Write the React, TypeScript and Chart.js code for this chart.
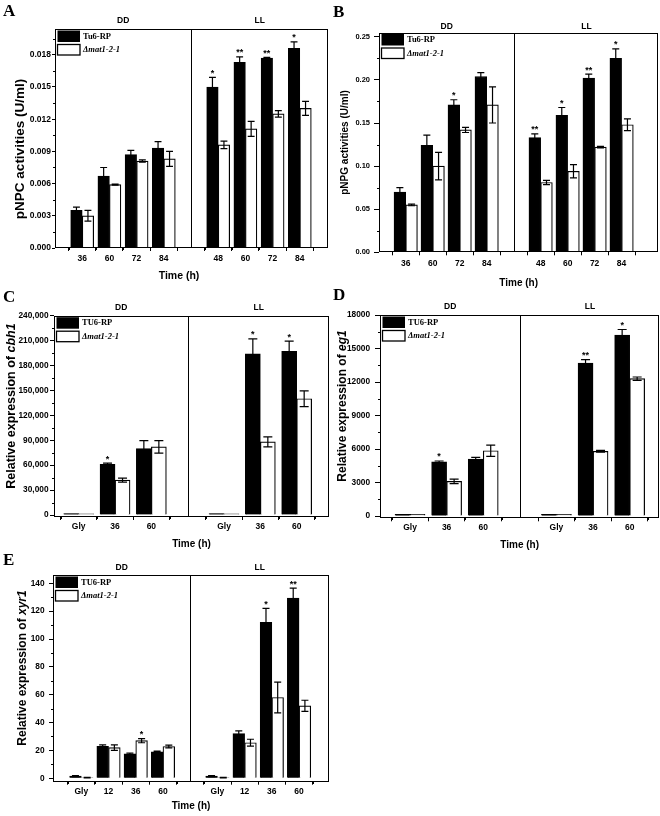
import React, { useEffect, useRef } from 'react';
import { Chart, registerables } from 'chart.js';

Chart.register(...registerables);

const SANS = '"Liberation Sans", Arial, Helvetica, sans-serif';
const SERIF = '"Liberation Serif", "Times New Roman", serif';

// ---------------- Panel A (pNPC) ----------------
const A_DD_LABELS = ['36', '60', '72', '84'];
const A_LL_LABELS = ['48', '60', '72', '84'];
const A_DD_WT = [0.0035, 0.0067, 0.0087, 0.0093];
const A_DD_WT_ERR = [0.0003, 0.0008, 0.0004, 0.0006];
const A_DD_MUT = [0.003, 0.0059, 0.0081, 0.0083];
const A_DD_MUT_ERR = [0.0005, 0.00005, 0.0001, 0.0007];
const A_LL_WT = [0.015, 0.0173, 0.0177, 0.0186];
const A_LL_WT_ERR = [0.0009, 0.0005, 0.00005, 0.0006];
const A_LL_MUT = [0.0096, 0.0111, 0.0125, 0.013];
const A_LL_MUT_ERR = [0.00035, 0.0007, 0.0003, 0.00065];
const A_WT_STARS = ['', '', '', '', '*', '**', '**', '*'];
const A_MUT_STARS = ['', '', '', '', '', '', '', ''];
const A_Y_TICKS = [0, 0.003, 0.006, 0.009, 0.012, 0.015, 0.018];
const A_Y_LABELS = ['0.000', '0.003', '0.006', '0.009', '0.012', '0.015', '0.018'];

// ---------------- Panel B (pNPG) ----------------
const B_DD_LABELS = ['36', '60', '72', '84'];
const B_LL_LABELS = ['48', '60', '72', '84'];
const B_DD_WT = [0.07, 0.124, 0.171, 0.204];
const B_DD_WT_ERR = [0.005, 0.012, 0.006, 0.0045];
const B_DD_MUT = [0.055, 0.1, 0.142, 0.171];
const B_DD_MUT_ERR = [0.001, 0.016, 0.003, 0.021];
const B_LL_WT = [0.133, 0.159, 0.202, 0.225];
const B_LL_WT_ERR = [0.0045, 0.009, 0.0046, 0.011];
const B_LL_MUT = [0.081, 0.094, 0.122, 0.148];
const B_LL_MUT_ERR = [0.0025, 0.0077, 0.001, 0.0068];
const B_WT_STARS = ['', '', '*', '', '**', '*', '**', '*'];
const B_MUT_STARS = ['', '', '', '', '', '', '', ''];
const B_Y_TICKS = [0, 0.05, 0.1, 0.15, 0.2, 0.25];
const B_Y_LABELS = ['0.00', '0.05', '0.10', '0.15', '0.20', '0.25'];

// ---------------- Panel C (cbh1) ----------------
const C_DD_LABELS = ['Gly', '36', '60'];
const C_LL_LABELS = ['Gly', '36', '60'];
const C_DD_WT = [1800, 61000, 80000];
const C_DD_WT_ERR = [0, 1500, 9500];
const C_DD_MUT = [1500, 42000, 82000];
const C_DD_MUT_ERR = [0, 2500, 7500];
const C_LL_WT = [1800, 194000, 197000];
const C_LL_WT_ERR = [0, 18000, 12500];
const C_LL_MUT = [1500, 88000, 140000];
const C_LL_MUT_ERR = [0, 6000, 9500];
const C_WT_STARS = ['', '*', '', '', '*', '*'];
const C_MUT_STARS = ['', '', '', '', '', ''];
const C_Y_TICKS = [0, 30000, 60000, 90000, 120000, 150000, 180000, 210000, 240000];
const C_Y_LABELS = ['0', '30,000', '60,000', '90,000', '120,000', '150,000', '180,000', '210,000', '240,000'];

// ---------------- Panel D (eg1) ----------------
const D_DD_LABELS = ['Gly', '36', '60'];
const D_LL_LABELS = ['Gly', '36', '60'];
const D_DD_WT = [150, 4850, 5100];
const D_DD_WT_ERR = [0, 80, 150];
const D_DD_MUT = [150, 3100, 5850];
const D_DD_MUT_ERR = [0, 200, 500];
const D_LL_WT = [150, 13700, 16200];
const D_LL_WT_ERR = [0, 300, 500];
const D_LL_MUT = [150, 5800, 12300];
const D_LL_MUT_ERR = [0, 80, 150];
const D_WT_STARS = ['', '*', '', '', '**', '*'];
const D_MUT_STARS = ['', '', '', '', '', ''];
const D_Y_TICKS = [0, 3000, 6000, 9000, 12000, 15000, 18000];
const D_Y_LABELS = ['0', '3000', '6000', '9000', '12000', '15000', '18000'];

// ---------------- Panel E (xyr1) ----------------
const E_DD_LABELS = ['Gly', '12', '36', '60'];
const E_LL_LABELS = ['Gly', '12', '36', '60'];
const E_DD_WT = [1.5, 23, 17.5, 19];
const E_DD_WT_ERR = [0.3, 1, 0.5, 0.5];
const E_DD_MUT = [0.5, 22, 27, 22.8];
const E_DD_MUT_ERR = [0.2, 2, 1.5, 1];
const E_LL_WT = [1.5, 32, 112, 129.5];
const E_LL_WT_ERR = [0.3, 2, 10, 7];
const E_LL_MUT = [0.5, 25.5, 58, 52];
const E_LL_MUT_ERR = [0.2, 2.5, 11, 4];
const E_WT_STARS = ['', '', '', '', '', '', '*', '**'];
const E_MUT_STARS = ['', '', '*', '', '', '', '', ''];
const E_Y_TICKS = [0, 20, 40, 60, 80, 100, 120, 140];
const E_Y_LABELS = ['0', '20', '40', '60', '80', '100', '120', '140'];

const MUT_NAME = '\u0394mat1-2-1';

type Geo = {
  left: number; top: number; w: number; h: number;
  L: number; T: number; R: number; B: number;
  xMin: number; xMax: number; yMin: number; yMax: number;
  barT: number;
  yTickSize: number; xTickSize: number; yTl: number; yPad: number; xPad: number;
  yTitleSize: number; yTitleX: number; yTitleY: number;
  xTitleSize: number; xTitleX?: number; xTitleY: number;
  letterY: number; groupDy: number; groupSize: number; starSize: number;
};

type Spec = {
  letter: string;
  ddLabels: string[]; llLabels: string[];
  wt: number[]; wtErr: number[]; mut: number[]; mutErr: number[];
  wtStars: string[]; mutStars: string[];
  yTicks: number[]; yLabels: string[];
  wtName: string; mutName: string;
  yTitle: { text: string; italic?: boolean }[];
  geo: Geo;
};

const SPECS: Spec[] = [
  {
    letter: 'A', ddLabels: A_DD_LABELS, llLabels: A_LL_LABELS,
    wt: [...A_DD_WT, ...A_LL_WT], wtErr: [...A_DD_WT_ERR, ...A_LL_WT_ERR],
    mut: [...A_DD_MUT, ...A_LL_MUT], mutErr: [...A_DD_MUT_ERR, ...A_LL_MUT_ERR],
    wtStars: A_WT_STARS, mutStars: A_MUT_STARS, yTicks: A_Y_TICKS, yLabels: A_Y_LABELS,
    wtName: 'Tu6-RP', mutName: MUT_NAME, yTitle: [{ text: 'pNPC activities (U/ml)' }],
    geo: {
      left: 0, top: 0, w: 330, h: 290, L: 55, T: 29, R: 328, B: 248,
      xMin: -1, xMax: 9.03, yMin: 0, yMax: 0.0204, barT: 11.5,
      yTickSize: 8.5, xTickSize: 8.5, yTl: 3, yPad: 1, xPad: 3,
      yTitleSize: 13.5, yTitleX: 20, yTitleY: 149, xTitleSize: 10.5, xTitleX: 179, xTitleY: 276,
      letterY: 16, groupDy: 8, groupSize: 8.5, starSize: 9,
    },
  },
  {
    letter: 'B', ddLabels: B_DD_LABELS, llLabels: B_LL_LABELS,
    wt: [...B_DD_WT, ...B_LL_WT], wtErr: [...B_DD_WT_ERR, ...B_LL_WT_ERR],
    mut: [...B_DD_MUT, ...B_LL_MUT], mutErr: [...B_DD_MUT_ERR, ...B_LL_MUT_ERR],
    wtStars: B_WT_STARS, mutStars: B_MUT_STARS, yTicks: B_Y_TICKS, yLabels: B_Y_LABELS,
    wtName: 'Tu6-RP', mutName: MUT_NAME, yTitle: [{ text: 'pNPG activities (U/ml)' }],
    geo: {
      left: 330, top: 0, w: 330, h: 295, L: 49, T: 32.5, R: 328.3, B: 252.3,
      xMin: -0.99, xMax: 9.36, yMin: 0, yMax: 0.255, barT: 11.7,
      yTickSize: 7.5, xTickSize: 8.5, yTl: 5, yPad: 4, xPad: 3,
      yTitleSize: 10, yTitleX: 15, yTitleY: 142.5, xTitleSize: 10, xTitleY: 283,
      letterY: 17, groupDy: 5.5, groupSize: 8.5, starSize: 9,
    },
  },
  {
    letter: 'C', ddLabels: C_DD_LABELS, llLabels: C_LL_LABELS,
    wt: [...C_DD_WT, ...C_LL_WT], wtErr: [...C_DD_WT_ERR, ...C_LL_WT_ERR],
    mut: [...C_DD_MUT, ...C_LL_MUT], mutErr: [...C_DD_MUT_ERR, ...C_LL_MUT_ERR],
    wtStars: C_WT_STARS, mutStars: C_MUT_STARS, yTicks: C_Y_TICKS, yLabels: C_Y_LABELS,
    wtName: 'TU6-RP', mutName: MUT_NAME,
    yTitle: [{ text: 'Relative expression of ' }, { text: 'cbh1', italic: true }],
    geo: {
      left: 0, top: 280, w: 330, h: 275, L: 54, T: 35.7, R: 329, B: 237,
      xMin: -0.68, xMax: 6.89, yMin: -2400, yMax: 240000, barT: 15,
      yTickSize: 8.3, xTickSize: 8.5, yTl: 4, yPad: 1.5, xPad: 2,
      yTitleSize: 12.5, yTitleX: 12, yTitleY: 126, xTitleSize: 10, xTitleY: 264,
      letterY: 22, groupDy: 7.7, groupSize: 8.5, starSize: 9,
    },
  },
  {
    letter: 'D', ddLabels: D_DD_LABELS, llLabels: D_LL_LABELS,
    wt: [...D_DD_WT, ...D_LL_WT], wtErr: [...D_DD_WT_ERR, ...D_LL_WT_ERR],
    mut: [...D_DD_MUT, ...D_LL_MUT], mutErr: [...D_DD_MUT_ERR, ...D_LL_MUT_ERR],
    wtStars: D_WT_STARS, mutStars: D_MUT_STARS, yTicks: D_Y_TICKS, yLabels: D_Y_LABELS,
    wtName: 'TU6-RP', mutName: MUT_NAME,
    yTitle: [{ text: 'Relative expression of ' }, { text: 'eg1', italic: true }],
    geo: {
      left: 330, top: 280, w: 330, h: 275, L: 50, T: 35, R: 329.3, B: 238.3,
      xMin: -0.82, xMax: 6.81, yMin: -200, yMax: 18000, barT: 15,
      yTickSize: 8.3, xTickSize: 8.5, yTl: 5, yPad: 5, xPad: 1.6,
      yTitleSize: 12, yTitleX: 13, yTitleY: 126, xTitleSize: 10, xTitleY: 265,
      letterY: 20, groupDy: 8, groupSize: 8.5, starSize: 9,
    },
  },
  {
    letter: 'E', ddLabels: E_DD_LABELS, llLabels: E_LL_LABELS,
    wt: [...E_DD_WT, ...E_LL_WT], wtErr: [...E_DD_WT_ERR, ...E_LL_WT_ERR],
    mut: [...E_DD_MUT, ...E_LL_MUT], mutErr: [...E_DD_MUT_ERR, ...E_LL_MUT_ERR],
    wtStars: E_WT_STARS, mutStars: E_MUT_STARS, yTicks: E_Y_TICKS, yLabels: E_Y_LABELS,
    wtName: 'TU6-RP', mutName: MUT_NAME,
    yTitle: [{ text: 'Relative expression of ' }, { text: 'xyr1', italic: true }],
    geo: {
      left: 0, top: 540, w: 330, h: 276, L: 53, T: 35, R: 329, B: 241.7,
      xMin: -1.04, xMax: 9.1, yMin: -2.5, yMax: 146, barT: 11.7,
      yTickSize: 8.3, xTickSize: 8.5, yTl: 4, yPad: 4.5, xPad: 2,
      yTitleSize: 12, yTitleX: 23, yTitleY: 128, xTitleSize: 10, xTitleY: 266,
      letterY: 25, groupDy: 7, groupSize: 8.5, starSize: 9,
    },
  },
];

function buildConfig(p: Spec): any {
  const g = p.geo;
  const nDD = p.ddLabels.length;
  const nLL = p.llLabels.length;
  const xPos = [...p.ddLabels.map((_, i) => i), ...p.llLabels.map((_, i) => nDD + 1 + i)];
  const slots: number[] = [];
  for (let s = Math.ceil(g.xMin - 1e-6); s <= Math.floor(g.xMax + 1e-6); s++) slots.push(s);
  const slotLabel = (v: number) => {
    const s = Math.round(v);
    if (Math.abs(v - s) > 1e-6) return '';
    if (s >= 0 && s < nDD) return p.ddLabels[s];
    const k = s - nDD - 1;
    if (k >= 0 && k < nLL) return p.llLabels[k];
    return '';
  };

  const decor = {
    id: 'decor',
    afterDraw(chart: any) {
      const ctx = chart.ctx as CanvasRenderingContext2D;
      const ca = chart.chartArea;
      const xs = chart.scales.x;
      const ys = chart.scales.y;
      ctx.save();
      ctx.strokeStyle = '#000';
      ctx.fillStyle = '#000';

      // error bars and significance marks
      const series = [
        { vals: p.wt, errs: p.wtErr, stars: p.wtStars },
        { vals: p.mut, errs: p.mutErr, stars: p.mutStars },
      ];
      series.forEach((s, di) => {
        const meta = chart.getDatasetMeta(di);
        meta.data.forEach((el: any, j: number) => {
          const x = el.x;
          const v = s.vals[j];
          const e = s.errs[j];
          const yTop = ys.getPixelForValue(v + e);
          if (e > 0) {
            const yBot = ys.getPixelForValue(v - e);
            const cw = g.barT * 0.3;
            ctx.lineWidth = 1.2;
            ctx.beginPath();
            ctx.moveTo(x, yTop); ctx.lineTo(x, yBot);
            ctx.moveTo(x - cw, yTop); ctx.lineTo(x + cw, yTop);
            ctx.moveTo(x - cw, yBot); ctx.lineTo(x + cw, yBot);
            ctx.stroke();
          }
          if (s.stars[j]) {
            ctx.font = `bold ${g.starSize}px ${SANS}`;
            ctx.textAlign = 'center';
            ctx.textBaseline = 'alphabetic';
            ctx.fillText(s.stars[j], x, yTop - 1.5);
          }
        });
      });

      // frame
      const l = Math.round(ca.left) + 0.5;
      const r = Math.round(ca.right) - 0.5;
      const t = Math.round(ca.top) + 0.5;
      const b = Math.round(ca.bottom) - 0.5;
      ctx.lineWidth = 1;
      ctx.strokeRect(l, t, r - l, b - t);

      // divider between DD and LL
      const xd = Math.round(xs.getPixelForValue(nDD)) + 0.5;
      ctx.beginPath();
      ctx.moveTo(xd, t); ctx.lineTo(xd, b);
      ctx.stroke();

      // minor ticks
      ctx.beginPath();
      const step = p.yTicks[1] - p.yTicks[0];
      for (let v = p.yTicks[0] + step / 2; v <= g.yMax + 1e-12; v += step) {
        const y = Math.round(ys.getPixelForValue(v)) + 0.5;
        ctx.moveTo(l, y); ctx.lineTo(l - 2.5, y);
      }
      for (let s = Math.ceil(g.xMin - 0.5) + 0.5; s <= g.xMax; s += 1) {
        if (s < g.xMin) continue;
        const x = Math.round(xs.getPixelForValue(s)) + 0.5;
        ctx.moveTo(x, b); ctx.lineTo(x, b + 2.5);
      }
      ctx.stroke();

      // DD / LL
      ctx.font = `bold ${g.groupSize}px ${SANS}`;
      ctx.textAlign = 'center';
      ctx.textBaseline = 'middle';
      ctx.fillText('DD', (ca.left + xd) / 2, ca.top - g.groupDy);
      ctx.fillText('LL', (xd + ca.right) / 2, ca.top - g.groupDy);

      // legend
      const lx = ca.left + 2.5;
      const ly = ca.top + 1.5;
      ctx.fillStyle = '#000';
      ctx.fillRect(lx, ly, 22.5, 11.5);
      ctx.fillStyle = '#fff';
      ctx.fillRect(lx, ly + 14, 22.5, 10.5);
      ctx.lineWidth = 1.3;
      ctx.strokeRect(lx, ly + 14, 22.5, 10.5);
      ctx.fillStyle = '#000';
      ctx.textAlign = 'left';
      ctx.font = `bold 8.5px ${SERIF}`;
      ctx.fillText(chart.data.datasets[0].label, lx + 25.5, ly + 6);
      ctx.font = `italic bold 8.5px ${SERIF}`;
      ctx.fillText(chart.data.datasets[1].label, lx + 25.5, ly + 19.5);

      // y title
      ctx.save();
      ctx.translate(g.yTitleX, g.yTitleY);
      ctx.rotate(-Math.PI / 2);
      const fonts = p.yTitle.map((part) => `${part.italic ? 'italic ' : ''}bold ${g.yTitleSize}px ${SANS}`);
      let total = 0;
      const widths = p.yTitle.map((part, i) => {
        ctx.font = fonts[i];
        const w = ctx.measureText(part.text).width;
        total += w;
        return w;
      });
      let x0 = -total / 2;
      ctx.textAlign = 'left';
      ctx.textBaseline = 'middle';
      p.yTitle.forEach((part, i) => {
        ctx.font = fonts[i];
        ctx.fillText(part.text, x0, 0);
        x0 += widths[i];
      });
      ctx.restore();

      // x title
      ctx.font = `bold ${g.xTitleSize}px ${SANS}`;
      ctx.textAlign = 'center';
      ctx.textBaseline = 'middle';
      ctx.fillText('Time (h)', g.xTitleX ?? (ca.left + ca.right) / 2, g.xTitleY);

      // panel letter
      ctx.font = `bold 17px ${SERIF}`;
      ctx.textAlign = 'left';
      ctx.textBaseline = 'alphabetic';
      ctx.fillText(p.letter, 3, g.letterY);

      ctx.restore();
    },
  };

  return {
    type: 'bar',
    data: {
      datasets: [
        {
          label: p.wtName,
          data: xPos.map((x, i) => ({ x, y: p.wt[i] })),
          backgroundColor: '#000',
          borderColor: '#000',
          borderWidth: 1,
          barThickness: g.barT,
        },
        {
          label: p.mutName,
          data: xPos.map((x, i) => ({ x, y: p.mut[i] })),
          backgroundColor: '#fff',
          borderColor: '#000',
          borderWidth: 1.2,
          barThickness: g.barT,
        },
      ],
    },
    options: {
      responsive: false,
      animation: false,
      events: [],
      layout: { padding: { left: 0, top: g.T, right: g.w - g.R, bottom: 0 } },
      plugins: { legend: { display: false }, tooltip: { enabled: false } },
      scales: {
        x: {
          type: 'linear',
          min: g.xMin,
          max: g.xMax,
          offset: false,
          afterBuildTicks: (s: any) => { s.ticks = slots.map((v) => ({ value: v })); },
          afterFit: (s: any) => { s.height = g.h - g.B; },
          grid: { display: true, drawOnChartArea: false, drawTicks: true, tickLength: 3, color: '#000' },
          border: { display: false },
          ticks: {
            autoSkip: false, maxRotation: 0, minRotation: 0, padding: g.xPad, color: '#000',
            font: { family: SANS, size: g.xTickSize, weight: 'bold' },
            callback: (v: any) => slotLabel(Number(v)),
          },
        },
        y: {
          type: 'linear',
          min: g.yMin,
          max: g.yMax,
          afterBuildTicks: (s: any) => { s.ticks = p.yTicks.map((v) => ({ value: v })); },
          afterFit: (s: any) => { s.width = g.L; },
          grid: { display: true, drawOnChartArea: false, drawTicks: true, tickLength: g.yTl, color: '#000' },
          border: { display: false },
          ticks: {
            padding: g.yPad, color: '#000',
            font: { family: SANS, size: g.yTickSize, weight: 'bold' },
            callback: (_v: any, i: number) => p.yLabels[i] ?? '',
          },
        },
      },
    },
    plugins: [decor],
  };
}

function Panel({ spec }: { spec: Spec }) {
  const ref = useRef<HTMLCanvasElement>(null);
  useEffect(() => {
    if (!ref.current) return;
    const chart = new Chart(ref.current, buildConfig(spec));
    return () => chart.destroy();
  }, [spec]);
  const g = spec.geo;
  return (
    <canvas
      ref={ref}
      width={g.w}
      height={g.h}
      style={{ position: 'absolute', left: g.left, top: g.top, width: g.w, height: g.h, display: 'block' }}
    />
  );
}

export default function App() {
  return (
    <div style={{ position: 'absolute', left: 0, top: 0, width: 660, height: 816, background: '#fff', overflow: 'hidden' }}>
      {SPECS.map((s) => (
        <Panel key={s.letter} spec={s} />
      ))}
    </div>
  );
}
